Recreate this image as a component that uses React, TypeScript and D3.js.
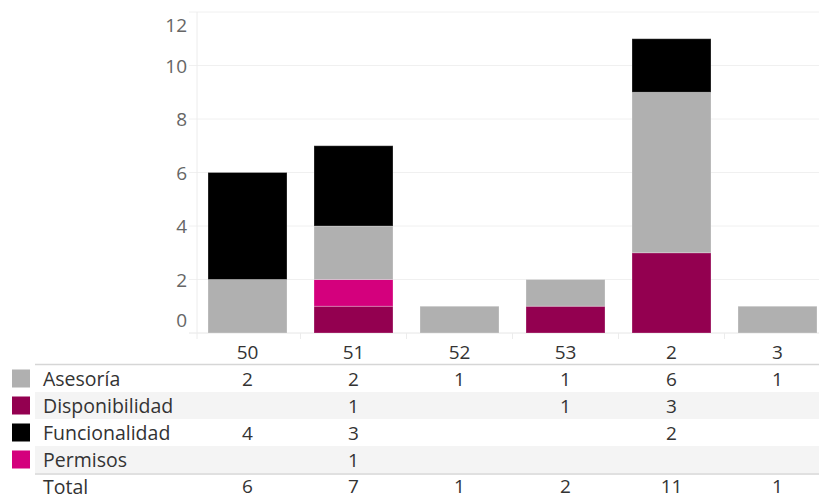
import React from "react";
import * as d3 from "d3";

const categories = ["50", "51", "52", "53", "2", "3"];
const asesoria: (number | null)[] = [2, 2, 1, 1, 6, 1];
const disponibilidad: (number | null)[] = [null, 1, null, 1, 3, null];
const funcionalidad: (number | null)[] = [4, 3, null, null, 2, null];
const permisos: (number | null)[] = [null, 1, null, null, null, null];
const yTicks = [0, 2, 4, 6, 8, 10, 12];

const seriesNames = ["Asesoría", "Disponibilidad", "Funcionalidad", "Permisos"];
const seriesValues = [asesoria, disponibilidad, funcionalidad, permisos];
const colors: Record<string, string> = {
  "Asesoría": "#b0b0b0",
  "Disponibilidad": "#930050",
  "Funcionalidad": "#000000",
  "Permisos": "#d4007d",
};
const stackOrder = ["Disponibilidad", "Permisos", "Asesoría", "Funcionalidad"];

const W = 819;
const H = 498;
const FONT = "'Open Sans', sans-serif";

export default function App() {
  const rows = categories.map((c, i) => {
    const r: Record<string, any> = { cat: c };
    seriesNames.forEach((s, k) => (r[s] = seriesValues[k][i] ?? 0));
    return r;
  });
  const totals = categories.map((_, i) =>
    seriesValues.reduce((a, arr) => a + (arr[i] ?? 0), 0)
  );

  const x = d3
    .scaleBand<string>()
    .domain(categories)
    .range([194.5, 830.5])
    .paddingInner(0.255)
    .paddingOuter(0.1275);
  const y = d3.scaleLinear().domain([0, 12]).range([333, 12]);

  const stacked = d3.stack<any>().keys(stackOrder)(rows);

  const plotLeft = 197;
  const step = x.step();
  const boundaries = categories.map((_, i) => 194.5 + step * (i + 1)).slice(0, 5);

  const headerY = 352;
  const tableTop = 365;
  const rowH = 27;
  const tableLeft = 35;
  const totalY = 486;

  const tickLabelY = (t: number) => {
    if (t === 0) return y(t) - 13;
    if (t === 12) return y(t) + 13;
    return y(t);
  };

  return (
    <svg
      width={W}
      height={H}
      style={{ position: "absolute", left: 0, top: 0, background: "#fff" }}
      fontFamily={FONT}
    >
      {yTicks.map((t) => (
        <line
          key={"g" + t}
          x1={189}
          x2={W}
          y1={y(t)}
          y2={y(t)}
          stroke={t === 0 ? "#e6e6e6" : "#f0f0f0"}
          strokeWidth={1}
        />
      ))}
      <line x1={plotLeft} x2={plotLeft} y1={y(12)} y2={339} stroke="#ececec" strokeWidth={1} />
      {boundaries.map((bx, i) => (
        <line key={"b" + i} x1={bx} x2={bx} y1={333} y2={339} stroke="#ececec" strokeWidth={1} />
      ))}
      {yTicks.map((t) => (
        <text
          key={"t" + t}
          x={187}
          y={tickLabelY(t)}
          textAnchor="end"
          dominantBaseline="central"
          fontSize={19}
          fill="#666"
        >
          {t}
        </text>
      ))}
      {stacked.map((layer) => (
        <g key={layer.key} fill={colors[layer.key]}>
          {layer.map((d, i) =>
            d[1] - d[0] > 0 ? (
              <rect
                key={i}
                x={x(categories[i])}
                width={x.bandwidth()}
                y={y(d[1])}
                height={y(d[0]) - y(d[1])}
                stroke="#ffffff"
                strokeOpacity={0.25}
                strokeWidth={1}
              />
            ) : null
          )}
        </g>
      ))}
      {categories.map((c) => (
        <text
          key={"h" + c}
          x={(x(c) as number) + x.bandwidth() / 2}
          y={headerY}
          textAnchor="middle"
          dominantBaseline="central"
          fontSize={19}
          fill="#333"
        >
          {c}
        </text>
      ))}
      {seriesNames.map((s, k) =>
        k % 2 === 1 ? (
          <rect key={"band" + s} x={tableLeft} y={tableTop + k * rowH} width={W - tableLeft} height={rowH} fill="#f4f4f4" />
        ) : null
      )}
      <line x1={tableLeft} x2={W} y1={tableTop - 0.5} y2={tableTop - 0.5} stroke="#d6d6d6" strokeWidth={1.6} />
      <line x1={tableLeft} x2={W} y1={tableTop + 4 * rowH + 1} y2={tableTop + 4 * rowH + 1} stroke="#d6d6d6" strokeWidth={1.4} />
      {seriesNames.map((s, k) => {
        const cy = tableTop + k * rowH + rowH / 2;
        return (
          <g key={"row" + s}>
            <rect x={12} y={cy - 9} width={18} height={18} fill={colors[s]} />
            <text x={43} y={cy} dominantBaseline="central" fontSize={19.5} fill="#333">
              {s}
            </text>
            {categories.map((c, i) => {
              const v = seriesValues[k][i];
              return v == null ? null : (
                <text
                  key={c}
                  x={(x(c) as number) + x.bandwidth() / 2}
                  y={cy}
                  textAnchor="middle"
                  dominantBaseline="central"
                  fontSize={19}
                  fill="#333"
                >
                  {v}
                </text>
              );
            })}
          </g>
        );
      })}
      <text x={43} y={totalY} dominantBaseline="central" fontSize={19.5} fill="#333">
        Total
      </text>
      {categories.map((c, i) => (
        <text
          key={"tot" + c}
          x={(x(c) as number) + x.bandwidth() / 2}
          y={totalY}
          textAnchor="middle"
          dominantBaseline="central"
          fontSize={19}
          fill="#333"
        >
          {totals[i]}
        </text>
      ))}
    </svg>
  );
}
